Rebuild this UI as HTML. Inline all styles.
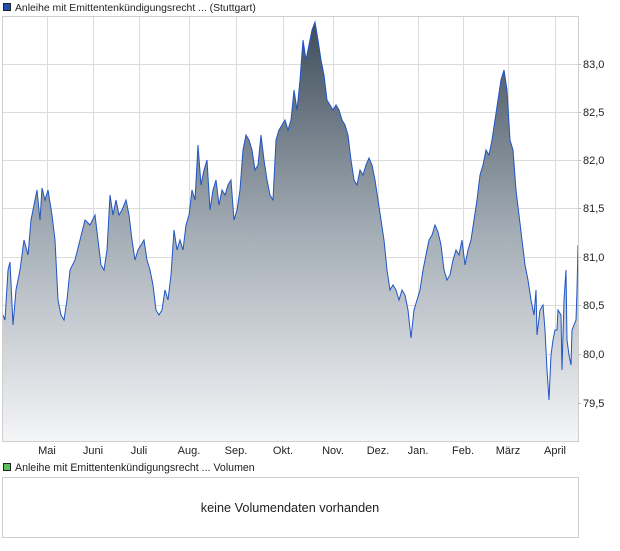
<!DOCTYPE html>
<html><head><meta charset="utf-8"><style>
body{margin:0;background:#fff;font-family:"Liberation Sans",Arial,sans-serif;}
svg text{font-family:"Liberation Sans",Arial,sans-serif;font-size:11px;fill:#222;}
</style></head><body>
<svg width="620" height="546" viewBox="0 0 620 546" xmlns="http://www.w3.org/2000/svg">
<defs><linearGradient id="g" x1="0" y1="20" x2="0" y2="441" gradientUnits="userSpaceOnUse">
<stop offset="0" stop-color="#3d4c5a"/><stop offset="0.5" stop-color="#a3acb4"/><stop offset="1" stop-color="#f4f5f7"/></linearGradient></defs>
<rect x="3.5" y="3.5" width="7" height="7" fill="#1f4fb4" stroke="#222" stroke-width="1"/>
<text x="15" y="11" style="font-size:10.4px">Anleihe mit Emittentenkündigungsrecht ... (Stuttgart)</text>
<g stroke="#dcdcdc" stroke-width="1">
<line x1="47.5" y1="16" x2="47.5" y2="441"/><line x1="93.5" y1="16" x2="93.5" y2="441"/><line x1="139.5" y1="16" x2="139.5" y2="441"/><line x1="189.5" y1="16" x2="189.5" y2="441"/><line x1="236.5" y1="16" x2="236.5" y2="441"/><line x1="283.5" y1="16" x2="283.5" y2="441"/><line x1="333.5" y1="16" x2="333.5" y2="441"/><line x1="378.5" y1="16" x2="378.5" y2="441"/><line x1="418.5" y1="16" x2="418.5" y2="441"/><line x1="463.5" y1="16" x2="463.5" y2="441"/><line x1="508.5" y1="16" x2="508.5" y2="441"/><line x1="555.5" y1="16" x2="555.5" y2="441"/>
<line x1="2" y1="64.5" x2="578" y2="64.5"/><line x1="2" y1="112.5" x2="578" y2="112.5"/><line x1="2" y1="160.5" x2="578" y2="160.5"/><line x1="2" y1="208.5" x2="578" y2="208.5"/><line x1="2" y1="257.5" x2="578" y2="257.5"/><line x1="2" y1="305.5" x2="578" y2="305.5"/><line x1="2" y1="354.5" x2="578" y2="354.5"/><line x1="2" y1="403.5" x2="578" y2="403.5"/>
</g>
<polygon fill="url(#g)" points="3,441 3,315 5,320 8,270 10,262 13,325 16,290 20,270 24,240 28,255 31,220 34,205 37,190 40,220 42,188 45,200 48,190 52,215 55,240 58,300 61,315 64,320 67,300 70,270 75,260 80,240 85,220 90,225 95,215 98,240 101,265 104,270 107,250 110,195 113,215 116,200 119,215 122,210 126,200 129,215 132,240 135,260 138,250 141,245 144,240 147,260 150,270 153,285 156,310 159,315 162,310 165,290 168,300 171,275 174,230 177,250 180,240 183,250 186,225 189,215 192,190 195,200 198,145 201,185 204,170 207,160 210,210 213,190 216,180 219,205 222,190 225,195 228,185 231,180 234,220 237,210 240,190 243,150 246,135 249,140 252,150 255,170 258,165 261,135 264,160 267,180 270,195 273,200 276,140 279,130 282,125 285,120 288,130 291,120 294,90 297,110 300,80 303,40 306,60 309,45 312,30 315,22 318,40 321,60 324,75 327,100 330,105 333,110 336,105 339,110 342,120 345,125 348,135 351,160 354,180 357,185 360,170 363,175 366,165 369,158 372,165 375,180 378,200 381,220 384,240 387,270 390,290 393,285 396,290 399,300 402,290 405,295 408,310 411,338 414,310 417,300 420,290 423,270 426,255 429,240 432,235 435,225 438,232 441,245 444,270 447,280 450,275 453,260 456,250 459,255 462,240 465,265 468,250 471,240 474,220 477,200 480,175 483,165 486,150 489,155 492,140 495,120 498,100 501,80 504,70 507,90 510,140 513,150 516,190 519,215 522,240 525,265 528,280 531,300 534,315 536,290 537,335 540,310 543,305 545,330 547,370 549,400 551,355 553,340 555,330 557,330 558,310 561,315 562,370 564,300 566,270 567,340 569,355 571,365 572,330 574,325 576,320 577,290 578,245 578,441"/>
<polyline fill="none" stroke="#1f55c4" stroke-width="1" points="3,315 5,320 8,270 10,262 13,325 16,290 20,270 24,240 28,255 31,220 34,205 37,190 40,220 42,188 45,200 48,190 52,215 55,240 58,300 61,315 64,320 67,300 70,270 75,260 80,240 85,220 90,225 95,215 98,240 101,265 104,270 107,250 110,195 113,215 116,200 119,215 122,210 126,200 129,215 132,240 135,260 138,250 141,245 144,240 147,260 150,270 153,285 156,310 159,315 162,310 165,290 168,300 171,275 174,230 177,250 180,240 183,250 186,225 189,215 192,190 195,200 198,145 201,185 204,170 207,160 210,210 213,190 216,180 219,205 222,190 225,195 228,185 231,180 234,220 237,210 240,190 243,150 246,135 249,140 252,150 255,170 258,165 261,135 264,160 267,180 270,195 273,200 276,140 279,130 282,125 285,120 288,130 291,120 294,90 297,110 300,80 303,40 306,60 309,45 312,30 315,22 318,40 321,60 324,75 327,100 330,105 333,110 336,105 339,110 342,120 345,125 348,135 351,160 354,180 357,185 360,170 363,175 366,165 369,158 372,165 375,180 378,200 381,220 384,240 387,270 390,290 393,285 396,290 399,300 402,290 405,295 408,310 411,338 414,310 417,300 420,290 423,270 426,255 429,240 432,235 435,225 438,232 441,245 444,270 447,280 450,275 453,260 456,250 459,255 462,240 465,265 468,250 471,240 474,220 477,200 480,175 483,165 486,150 489,155 492,140 495,120 498,100 501,80 504,70 507,90 510,140 513,150 516,190 519,215 522,240 525,265 528,280 531,300 534,315 536,290 537,335 540,310 543,305 545,330 547,370 549,400 551,355 553,340 555,330 557,330 558,310 561,315 562,370 564,300 566,270 567,340 569,355 571,365 572,330 574,325 576,320 577,290 578,245"/>
<rect x="2.5" y="16.5" width="576" height="425" fill="none" stroke="#cfcfcf"/>
<g stroke="#bbb"><line x1="578" y1="64.5" x2="581" y2="64.5"/><line x1="578" y1="112.5" x2="581" y2="112.5"/><line x1="578" y1="160.5" x2="581" y2="160.5"/><line x1="578" y1="208.5" x2="581" y2="208.5"/><line x1="578" y1="257.5" x2="581" y2="257.5"/><line x1="578" y1="305.5" x2="581" y2="305.5"/><line x1="578" y1="354.5" x2="581" y2="354.5"/><line x1="578" y1="403.5" x2="581" y2="403.5"/></g>
<text x="583" y="68">83,0</text><text x="583" y="116">82,5</text><text x="583" y="164">82,0</text><text x="583" y="212">81,5</text><text x="583" y="261">81,0</text><text x="583" y="309">80,5</text><text x="583" y="358">80,0</text><text x="583" y="407">79,5</text>
<g text-anchor="middle"><text x="47" y="454">Mai</text><text x="93" y="454">Juni</text><text x="139" y="454">Juli</text><text x="189" y="454">Aug.</text><text x="236" y="454">Sep.</text><text x="283" y="454">Okt.</text><text x="333" y="454">Nov.</text><text x="378" y="454">Dez.</text><text x="418" y="454">Jan.</text><text x="463" y="454">Feb.</text><text x="508" y="454">März</text><text x="555" y="454">April</text></g>
<rect x="3.5" y="463.5" width="7" height="7" fill="#5cc05c" stroke="#222" stroke-width="1"/>
<text x="15" y="471" style="font-size:10.6px">Anleihe mit Emittentenkündigungsrecht ... Volumen</text>
<rect x="2.5" y="477.5" width="576" height="60" fill="none" stroke="#cfcfcf"/>
<text x="290" y="512" text-anchor="middle" style="font-size:12.7px">keine Volumendaten vorhanden</text>
</svg>
</body></html>
